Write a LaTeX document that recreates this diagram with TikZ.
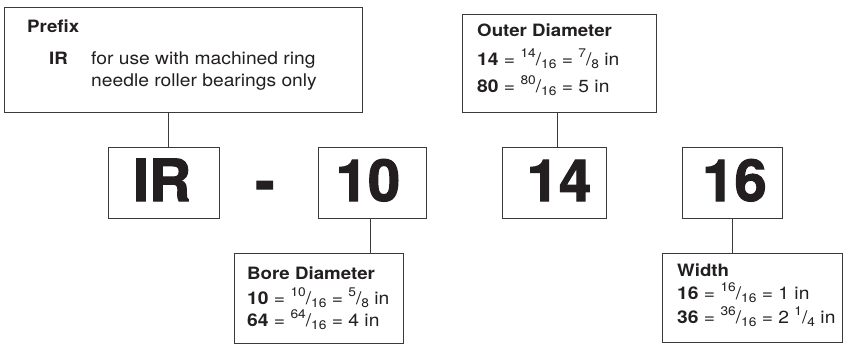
\documentclass[tikz,border=0pt]{standalone}
\usepackage{fontspec}
\setmainfont{TeX Gyre Heros}[FakeStretch=1.1]
\newfontfamily\heavy{TeX Gyre Heros}[BoldFeatures={FakeBold=1.8}]
\definecolor{ink}{HTML}{231F20}
\definecolor{edge}{HTML}{3A3A3A}
\newcommand\fr[2]{\raisebox{0.42em}{\fontsize{12.5}{13}\selectfont #1}/\raisebox{-0.2em}{\fontsize{12.5}{13}\selectfont #2}}
\begin{document}
\begin{tikzpicture}[x=1pt,y=-1pt,
  box/.style={draw=edge, line width=1pt, inner sep=0pt, outer sep=0pt, anchor=north west},
  conn/.style={draw=edge, line width=1pt},
  lbl/.style={anchor=base west, inner sep=0pt, text=ink, font=\fontsize{17.5}{20}\selectfont},
  head/.style={lbl, font=\bfseries\fontsize{17}{20}\selectfont},
  big/.style={anchor=base, inner sep=0pt, text=ink, font=\heavy\bfseries\fontsize{58}{60}\selectfont}]
\useasboundingbox (0,0) rectangle (850,345);
\fill[white] (0,0) rectangle (850,345);
% boxes
\node[box, minimum width=358pt, minimum height=104pt] (prefix) at (4,8) {};
\node[box, minimum width=194pt, minimum height=97pt] (outer) at (462,15) {};
\node[box, minimum width=111pt, minimum height=71pt] (IR) at (108,147) {};
\node[box, minimum width=108pt, minimum height=71pt] (ten) at (318,147) {};
\node[box, minimum width=104pt, minimum height=71pt] (fourteen) at (502,147) {};
\node[box, minimum width=100pt, minimum height=71pt] (sixteen) at (682,147) {};
\node[box, minimum width=169pt, minimum height=90pt] (bore) at (234,253) {};
\node[box, minimum width=180pt, minimum height=89pt] (widthbox) at (662,253) {};
% big codes
\node[big] (tIR) at (162,201) {IR};
\node[big] (tdash) at (265,201) {-};
\node[big] (tten) at (368,201) {10};
\node[big] (tfourteen) at (559,201) {14};
\node[big] (tsixteen) at (734.5,201) {16};
% prefix text
\node[head] (p1) at (27,33) {Prefix};
\node[head] (p2) at (49,64) {IR};
\node[lbl] (p3) at (91,64) {for use with machined ring};
\node[lbl] (p4) at (91,86) {needle roller bearings only};
% outer diameter
\node[head] (o1) at (477,37) {Outer Diameter};
\node[lbl] (o2) at (477,65) {\textbf{14} = \fr{14}{16} = \fr{7}{8} in};
\node[lbl] (o3) at (477,92) {\textbf{80} = \fr{80}{16} = 5 in};
% bore diameter
\node[head] (b1) at (247,279) {Bore Diameter};
\node[lbl] (b2) at (247,304) {\textbf{10} = \fr{10}{16} = \fr{5}{8} in};
\node[lbl] (b3) at (247,326) {\textbf{64} = \fr{64}{16} = 4 in};
% width
\node[head] (w1) at (677,276) {Width};
\node[lbl] (w2) at (677,299) {\textbf{16} = \fr{16}{16} = 1 in};
\node[lbl] (w3) at (677,323) {\textbf{36} = \fr{36}{16} = 2 \fr{1}{4} in};
% connectors
\draw[conn] ([xshift=4.5pt]IR.north) -- ([xshift=4.5pt]IR.north |- prefix.south);
\draw[conn] ([xshift=-2pt]ten.south) -- ([xshift=-2pt]ten.south |- bore.north);
\draw[conn] ([xshift=3pt]fourteen.north) -- ([xshift=3pt]fourteen.north |- outer.south);
\draw[conn] (sixteen.south) -- (sixteen.south |- widthbox.north);
\end{tikzpicture}
\end{document}
